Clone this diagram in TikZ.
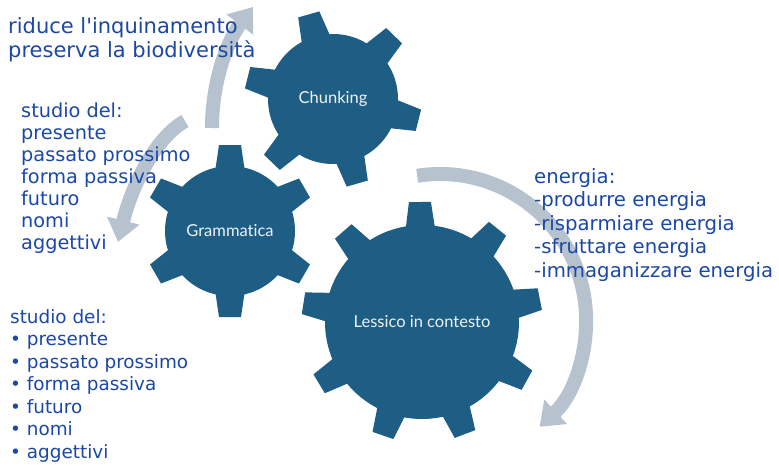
\documentclass[tikz,border=0pt]{standalone}
\usepackage{fontspec}
\setmainfont{DejaVu Sans}
\newfontfamily\labelfont{Lato}[Ligatures={NoCommon}]
\usetikzlibrary{arrows.meta}
\definecolor{gearblue}{RGB}{31,94,132}
\definecolor{textblue}{RGB}{28,72,165}
\definecolor{arrowgray}{RGB}{182,195,207}
% 齿轮：中心, 内半径, 外半径, 齿数, 起始角
\newcommand{\drawgear}[5]{%
  \fill[gearblue] (#1) circle (#2pt);
  \foreach \k in {1,...,#4}
    \fill[gearblue, shift={(#1)}, rotate=#5+\k*360/#4]
      (#2-6,-15) -- (#3,-11) -- (#3,11) -- (#2-6,15) -- cycle;
}
\begin{document}
\begin{tikzpicture}[x=1pt, y=1pt,
    bigarrow/.style={arrowgray, line width=14pt, -{Triangle[width=32pt,length=22pt]}},
    listtext/.style={text=textblue, anchor=north west, inner sep=0pt, align=left},
    gearlabel/.style={text=white!92!gearblue, font=\labelfont\fontsize{16.5}{19}\selectfont}]
    \useasboundingbox (0,0) rectangle (779,467);
    \fill[white] (0,0) rectangle (779,467);
    % 箭头
    \coordinate (a1s) at (212,339);
    \coordinate (a1e) at (253,460);
    \draw[bigarrow] (a1s) .. controls (212,387) and (228,427) .. (a1e);
    \coordinate (a2s) at (185,346);
    \coordinate (a2e) at (118,225);
    \draw[bigarrow] (a2s) .. controls (156,330) and (132,282) .. (a2e);
    \coordinate (a3s) at (417.2,291.2);
    \draw[bigarrow] (a3s) arc[start angle=99, end angle=-47, radius=146];
    % 齿轮
    \coordinate (cchunk) at (333,368);
    \coordinate (cgram) at (230,236);
    \coordinate (clex) at (422,145);
    \drawgear{cchunk}{65}{88}{6}{106}
    \drawgear{cgram}{65}{86}{6}{90}
    \drawgear{clex}{97}{120}{9}{91}
    \node[gearlabel] (chunking) at (cchunk) {Chunking};
    \node[gearlabel] (grammatica) at (cgram) {Grammatica};
    \node[gearlabel] (lessico) at (clex) {Lessico in contesto};
    % 文字
    \node[listtext, font=\fontsize{21}{24}\selectfont] (ambiente) at (8,450)
        {riduce l\textquotesingle inquinamento\\preserva la biodiversità};
    \node[listtext, font=\fontsize{19.3}{22}\selectfont] (studio) at (21,364)
        {studio del:\\presente\\passato prossimo\\forma passiva\\futuro\\nomi\\aggettivi};
    \node[listtext, font=\fontsize{18.4}{22.5}\selectfont] (studiopunti) at (10,158)
        {studio del:\\• presente\\• passato prossimo\\• forma passiva\\• futuro\\• nomi\\• aggettivi};
    \node[listtext, font=\fontsize{19.7}{23.5}\selectfont] (energia) at (534,299)
        {energia:\\-produrre energia\\-risparmiare energia\\-sfruttare energia\\-immaganizzare energia};
\end{tikzpicture}
\end{document}
